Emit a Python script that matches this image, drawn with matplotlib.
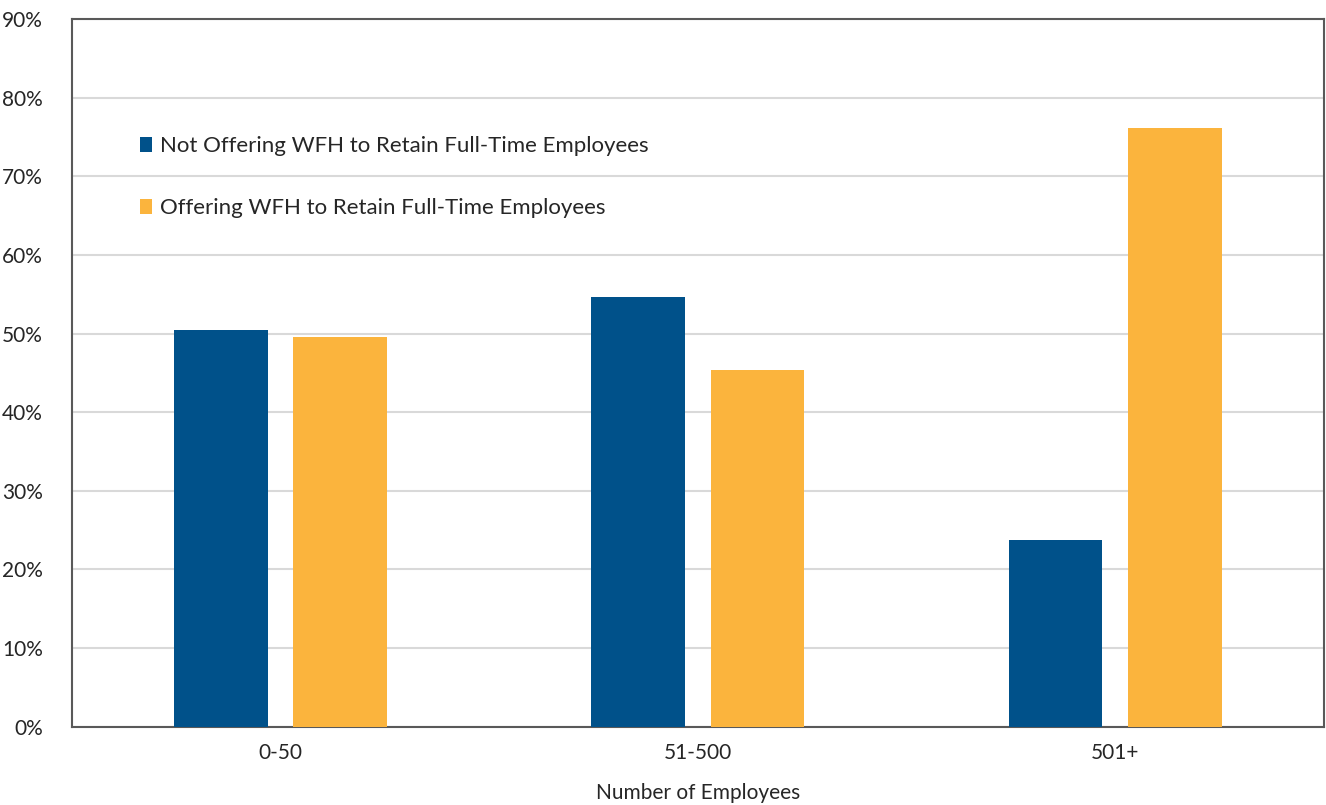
import matplotlib.pyplot as plt
import numpy as np
from matplotlib.ticker import PercentFormatter

plt.rcParams['font.family'] = ['Lato', 'DejaVu Sans']

categories = ["0-50", "51-500", "501+"]
not_offering = [50.5, 54.6, 23.8]
offering = [49.5, 45.4, 76.2]
labels = ["Not Offering WFH to Retain Full-Time Employees",
          "Offering WFH to Retain Full-Time Employees"]

blue = "#00518A"
orange = "#FBB43D"
text_color = "#262626"

fig = plt.figure(figsize=(13.26, 8.05), dpi=100)
ax = fig.add_axes([0.0543, 0.0973, 0.944, 0.879])

x = np.arange(len(categories))
w = 0.225
ax.bar(x - 0.143, not_offering, w, color=blue, label=labels[0], zorder=3)
ax.bar(x + 0.143, offering, w, color=orange, label=labels[1], zorder=3)

ax.set_xlim(-0.5, 2.5)
ax.set_ylim(0, 90)
ax.set_yticks(range(0, 91, 10))
ax.yaxis.set_major_formatter(PercentFormatter(decimals=0))
ax.set_xticks(x)
ax.set_xticklabels(categories)
ax.tick_params(axis='both', length=0, labelsize=15, colors=text_color)
ax.tick_params(axis='x', pad=12)
ax.tick_params(axis='y', pad=21)

ax.grid(axis='y', color="#d9d9d9", linewidth=1.5, zorder=0)
for s in ax.spines.values():
    s.set_color("#595959")
    s.set_linewidth(1.5)

ax.set_xlabel("Number of Employees", fontsize=15, color=text_color, labelpad=14)

ax.legend(loc='upper left', bbox_to_anchor=(0.038, 0.863), frameon=False,
          fontsize=16, handlelength=0.55, handleheight=0.65, handletextpad=0.35,
          labelspacing=1.9, labelcolor=text_color)

fig.savefig("out.png", dpi=100)
